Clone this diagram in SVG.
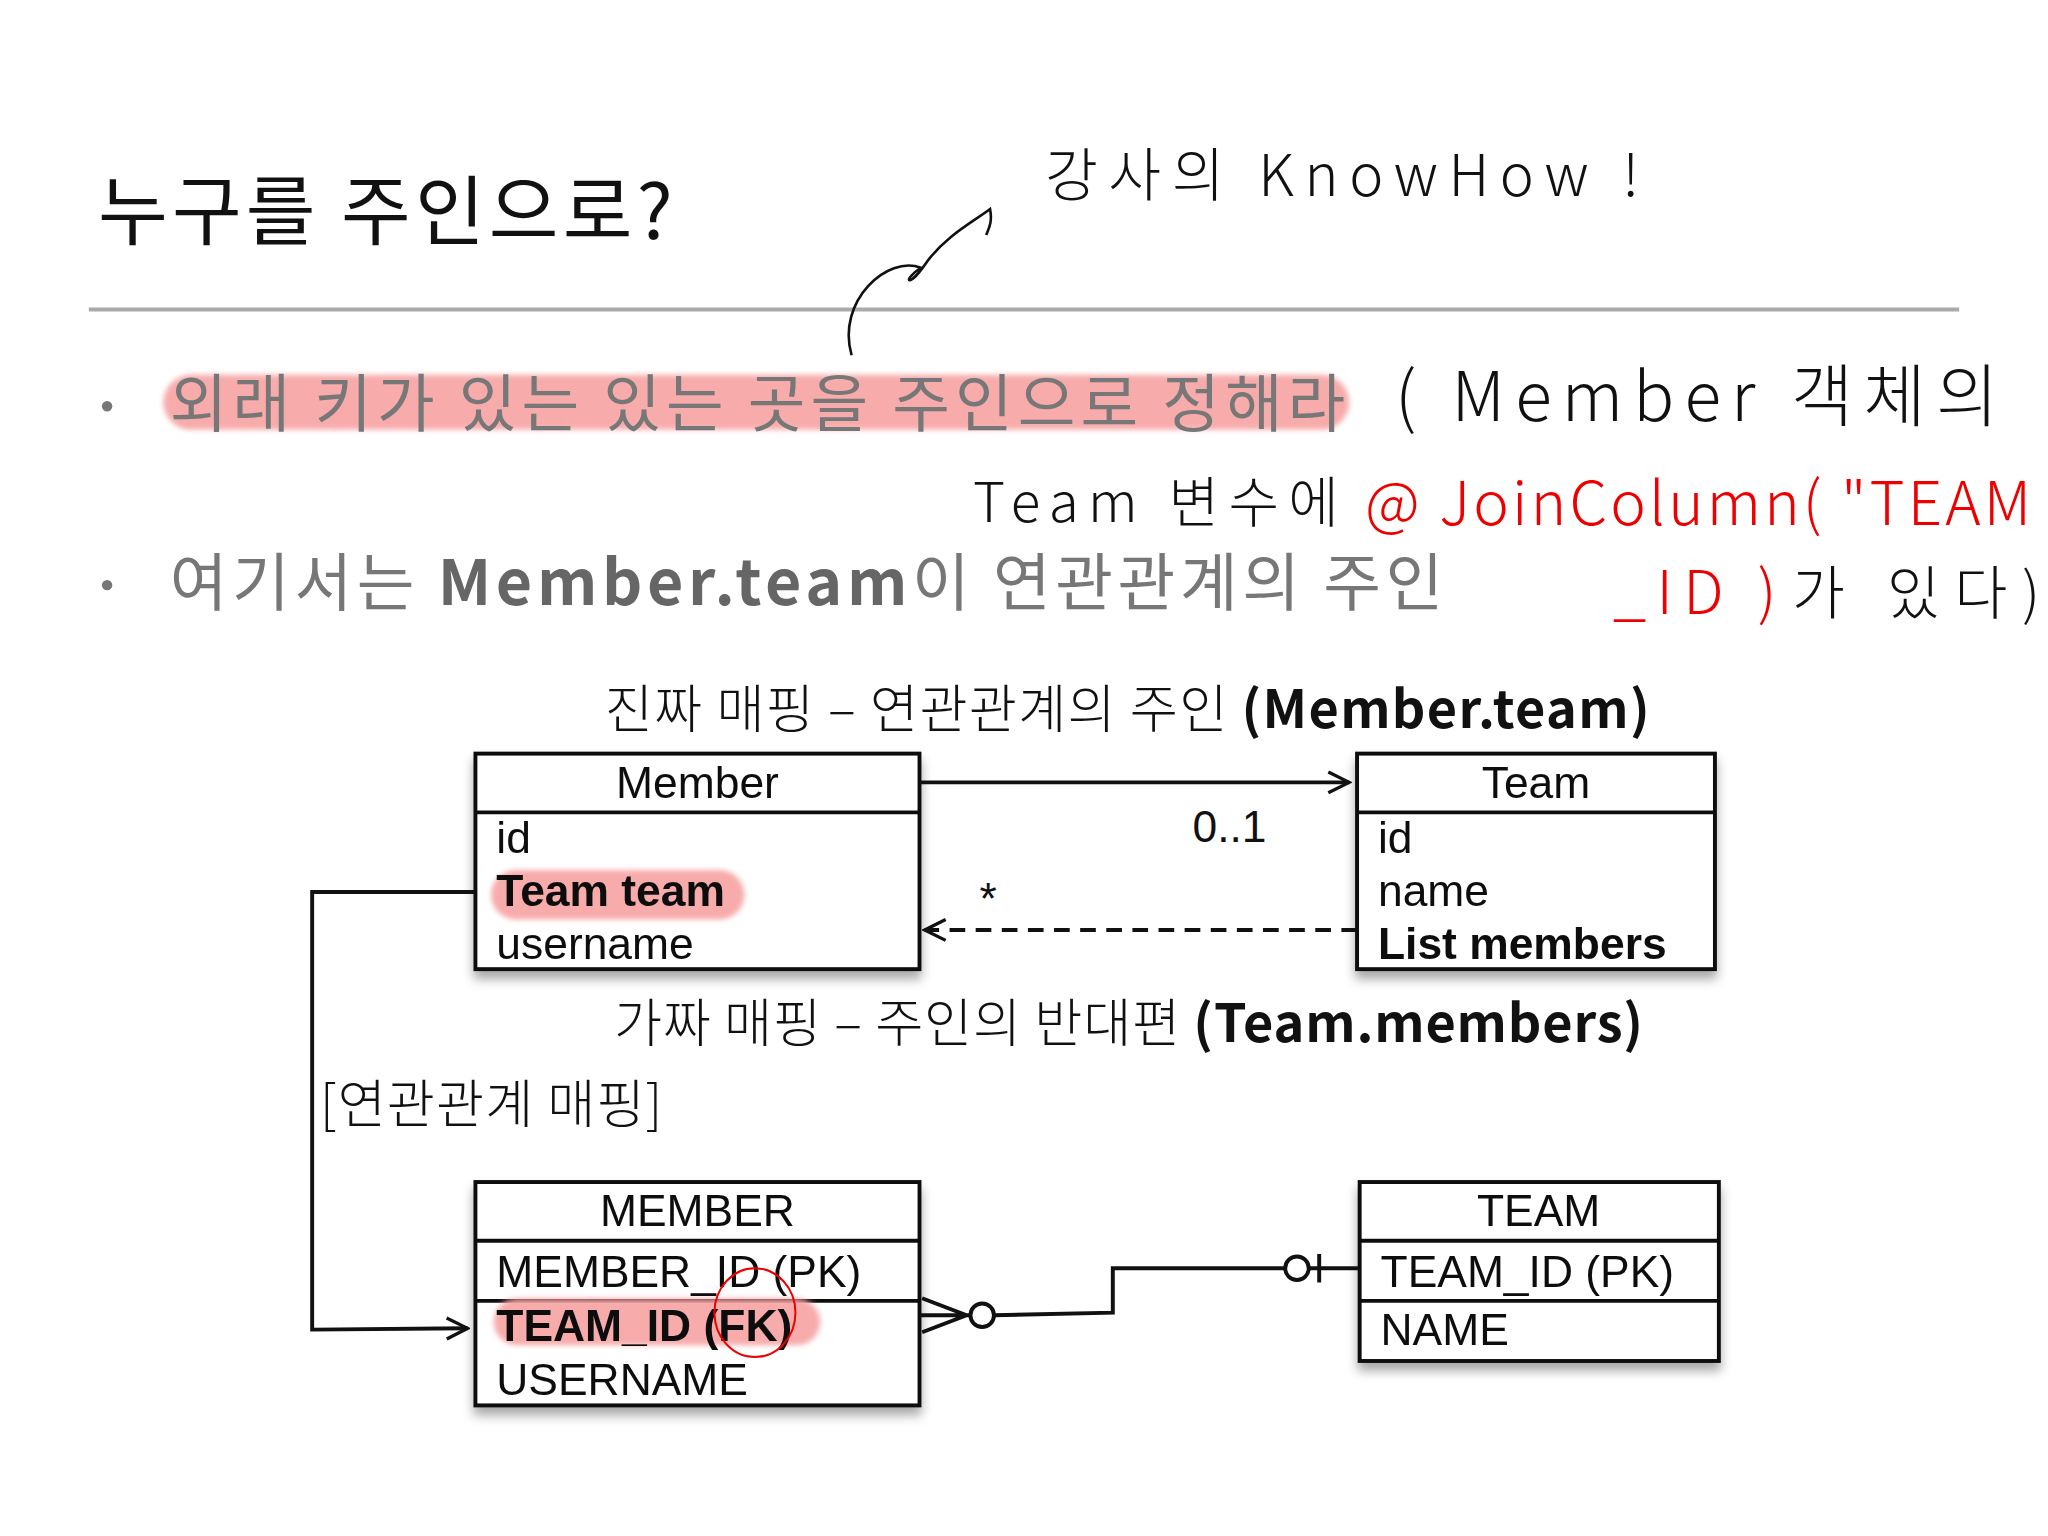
<svg xmlns="http://www.w3.org/2000/svg" width="2048" height="1536" viewBox="0 0 2048 1536">
<defs>
<style>
.k{font-family:"Noto Sans CJK KR","Noto Sans",sans-serif;}
.t{font-family:"Noto Sans CJK KR","Noto Sans",sans-serif;font-weight:300;fill:#111;}
.l{font-family:"Liberation Sans",Arial,sans-serif;fill:#111;font-size:34px;}
.b{font-weight:700;}
.box{fill:#fff;stroke:#111;stroke-width:3;}
.ln{stroke:#111;stroke-width:3;fill:none;}
.hl{fill:#f7a3a3;opacity:0.9;}
.hw{font-family:"Noto Sans CJK KR","Noto Sans",sans-serif;font-weight:300;}
</style>
<filter id="sh" x="-10%" y="-10%" width="120%" height="130%">
<feDropShadow dx="0" dy="6" stdDeviation="4" flood-color="#000" flood-opacity="0.35"/>
</filter>
<filter id="blur"><feGaussianBlur stdDeviation="2"/></filter>
<marker id="open" viewBox="0 0 20 20" refX="18" refY="10" markerWidth="20" markerHeight="20" markerUnits="userSpaceOnUse" orient="auto">
<path d="M2,2 L18,10 L2,18" fill="none" stroke="#111" stroke-width="2.5"/>
</marker>
</defs>
<rect width="2048" height="1536" fill="#fff"/>
<g transform="scale(1.30612)">
<g id="header">
<text class="k" x="75" y="183" font-size="58" fill="#111" textLength="440">누구를 주인으로?</text>
<line x1="68" y1="237" x2="1500" y2="237" stroke="#aaa" stroke-width="3"/>
</g>
<g id="bullet1">
<rect class="hl" x="125" y="287" width="908" height="42" rx="21" filter="url(#blur)"/>
<circle cx="82" cy="311" r="4" fill="#777"/>
<text class="k" x="130" y="326" font-size="48" fill="#777" textLength="900">외래 키가 있는 있는 곳을 주인으로 정해라</text>
</g>
<g id="bullet2">
<circle cx="82" cy="448" r="4" fill="#777"/>
<text class="k" x="130" y="463" font-size="48" fill="#777" textLength="975">여기서는 <tspan class="b" fill="#666">Member.team</tspan>이 연관관계의 주인</text>
</g>
<g id="annotations">
<text class="hw" x="800" y="150" font-size="44" fill="#111" textLength="455">강사의  KnowHow !</text>
<path d="M652,272 C640,230 680,195 705,205 C690,215 695,222 710,200 C725,180 745,170 758,160 C760,170 757,175 755,180" fill="none" stroke="#111" stroke-width="2"/>
<text class="hw" x="1068" y="322" font-size="52" fill="#111" textLength="462">( Member 객체의</text>
<text class="hw" x="745" y="400" font-size="42" fill="#111" textLength="280">Team 변수에</text>
<text class="hw" x="1045" y="402" font-size="46" fill="#e00" textLength="510">@ JoinColumn( "TEAM</text>
<text class="hw" x="1235" y="470" font-size="46" fill="#e00" textLength="125">_ID )</text>
<text class="hw" x="1372" y="470" font-size="44" fill="#111" textLength="190">가 있다)</text>
</g>
<g id="subtitle1">
<text class="t" x="463" y="557" font-size="40" textLength="800">진짜 매핑 – 연관관계의 주인 <tspan class="b">(Member.team)</tspan></text>
</g>
<g id="MemberClass" filter="url(#sh)">
<rect class="box" x="364" y="577" width="340" height="165"/>
<line class="ln" x1="364" y1="622" x2="704" y2="622"/>
<rect class="hl" x="376" y="666" width="194" height="38" rx="19" filter="url(#blur)"/>
<text class="l" x="534" y="611" text-anchor="middle">Member</text>
<text class="l" x="380" y="653">id</text>
<text class="l b" x="380" y="694">Team team</text>
<text class="l" x="380" y="734">username</text>
</g>
<g id="TeamClass" filter="url(#sh)">
<rect class="box" x="1039" y="577" width="274" height="165"/>
<line class="ln" x1="1039" y1="622" x2="1313" y2="622"/>
<text class="l" x="1176" y="611" text-anchor="middle">Team</text>
<text class="l" x="1055" y="653">id</text>
<text class="l" x="1055" y="694">name</text>
<text class="l b" x="1055" y="734">List members</text>
</g>
<g id="subtitle2">
<text class="t" x="470" y="798" font-size="40" textLength="788">가짜 매핑 – 주인의 반대편 <tspan class="b">(Team.members)</tspan></text>
<text class="t" x="245" y="860" font-size="40" textLength="262">[연관관계 매핑]</text>
</g>
<g id="MEMBERTable" filter="url(#sh)">
<rect class="box" x="364" y="905" width="340" height="171"/>
<line class="ln" x1="364" y1="950" x2="704" y2="950"/>
<line class="ln" x1="364" y1="996" x2="704" y2="996"/>
<rect class="hl" x="378" y="994" width="250" height="36" rx="18" filter="url(#blur)"/>
<text class="l" x="534" y="939" text-anchor="middle">MEMBER</text>
<text class="l" x="380" y="985">MEMBER_ID (PK)</text>
<text class="l b" x="380" y="1027">TEAM_ID (FK)</text>
<text class="l" x="380" y="1068">USERNAME</text>
<ellipse cx="578" cy="1005" rx="31" ry="34" fill="none" stroke="#e00" stroke-width="1.5"/>
</g>
<g id="TEAMTable" filter="url(#sh)">
<rect class="box" x="1041" y="905" width="275" height="137"/>
<line class="ln" x1="1041" y1="950" x2="1316" y2="950"/>
<line class="ln" x1="1041" y1="996" x2="1316" y2="996"/>
<text class="l" x="1178" y="939" text-anchor="middle">TEAM</text>
<text class="l" x="1057" y="985">TEAM_ID (PK)</text>
<text class="l" x="1057" y="1030">NAME</text>
</g>
<g id="connectors">
<line class="ln" x1="704" y1="599" x2="1033" y2="599" marker-end="url(#open)"/>
<text class="l" x="913" y="645">0..1</text>
<line class="ln" x1="1039" y1="712" x2="708" y2="712" stroke-dasharray="12,8" marker-end="url(#open)"/>
<text class="l" x="750" y="700" font-size="30">*</text>
<polyline class="ln" points="364,683 239,683 239,1018 358,1017" marker-end="url(#open)"/>
<path class="ln" d="M706,994 L740,1007 L706,1020 M704,1007 L743,1007"/>
<circle class="ln" cx="752" cy="1007" r="9" fill="#fff"/>
<polyline class="ln" points="761,1007 852,1005 852,971 984,971"/>
<circle class="ln" cx="993" cy="971" r="9" fill="#fff"/>
<path class="ln" d="M1002,971 L1041,971 M1010,960 L1010,982"/>
</g>
</g>
</svg>
